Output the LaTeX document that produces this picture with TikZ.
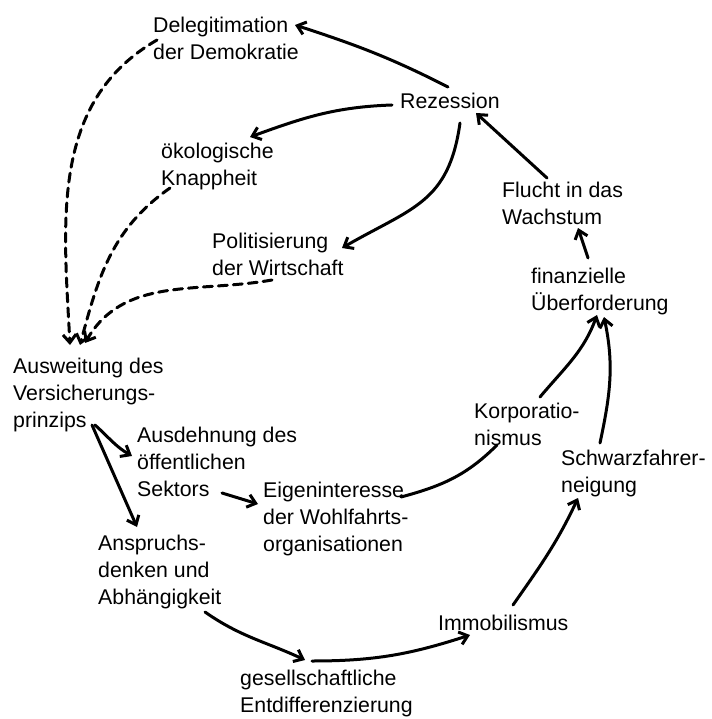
\documentclass[tikz,border=0pt]{standalone}
\usepackage{fontspec}
\setmainfont{Liberation Sans}
\usetikzlibrary{
  arrows.meta,
  calc
}

\tikzset{
    txt/.style={anchor=north west, inner sep=0pt, align=left,
        font=\fontsize{21.3}{27}\selectfont},
    flow/.style={line width=3pt, line cap=round, ->},
    feed/.style={flow, dash pattern=on 9pt off 6pt},
}

\begin{document}
\begin{tikzpicture}[x=1pt, y=-1pt, >={Straight Barb[length=8pt,width=13pt]}]
\useasboundingbox (0,0) rectangle (711,719);

% The labels round the circle
\node[txt] (deleg)  at (153,17)  {Delegitimation\\der Demokratie};
\node[txt] (rez)    at (400,93)  {Rezession};
\node[txt] (oeko)   at (161,143) {ökologische\\Knappheit};
\node[txt] (pol)    at (212,233) {Politisierung\\der Wirtschaft};
\node[txt] (flucht) at (502,182) {Flucht in das\\Wachstum};
\node[txt] (fin)    at (531,268) {finanzielle\\Überforderung};
\node[txt] (ausw)   at (13,358)  {Ausweitung des\\Versicherungs-\\prinzips};
\node[txt] (ausd)   at (137,427) {Ausdehnung des\\öffentlichen\\Sektors};
\node[txt] (korp)   at (474,403) {Korporatio-\\nismus};
\node[txt] (schw)   at (561,450) {Schwarzfahrer-\\neigung};
\node[txt] (eigen)  at (263,482) {Eigeninteresse\\der Wohlfahrts-\\organisationen};
\node[txt] (anspr)  at (98,535)  {Anspruchs-\\denken und\\Abhängigkeit};
\node[txt] (immo)   at (438,615) {Immobilismus};
\node[txt] (ges)    at (240,670) {gesellschaftliche\\Entdifferenzierung};

% Rezession and what it leads to
\draw[flow] ($(rez.north west)+(48,-6)$) to[out=153,in=-18] ($(deleg.north west)+(142,8)$);
\draw[flow] ($(rez.north west)+(-8,12)$) to[out=182,in=20] ($(oeko.north west)+(89,-6)$);
\draw[flow] ($(rez.north west)+(60,30)$) to[out=262,in=30,looseness=1.2] ($(pol.north west)+(130,15)$);

% The right side, going up
\draw[flow] ($(flucht.north west)+(45,-4)$) -- ($(rez.north west)+(76,20)$);
\draw[flow] ($(fin.north west)+(57,-10)$) -- ($(flucht.north west)+(76,46)$);
\draw[flow] ($(korp.north west)+(66,-6)$) to[out=50,in=250] ($(fin.north west)+(66,47)$);
\draw[flow] ($(schw.north west)+(39,-7)$) to[out=78,in=-78] ($(fin.north west)+(73,49)$);
\draw[line width=3pt, line cap=round] ($(eigen.north west)+(138,15)$) to[out=15,in=225] ($(korp.north west)+(23,42)$);
\draw[flow] ($(immo.north west)+(75,-10)$) to[out=55,in=245] ($(schw.north west)+(17,48)$);

% The bottom, going right
\draw[flow] ($(ges.north west)+(72,-9)$) to[out=0,in=198] ($(immo.north west)+(32,20)$);
\draw[flow] ($(anspr.north west)+(107,77)$) to[out=-35,in=155] ($(ges.north west)+(65,-10)$);

% Out of the Versicherungsprinzip
\draw[flow] ($(ausw.north west)+(82,67)$) to[out=-42,in=150] ($(ausd.north west)+(-5,29)$);
\draw[flow] ($(ausw.north west)+(79,67)$) -- ($(anspr.north west)+(39,-8)$);
\draw[flow] ($(ausd.north west)+(85,66)$) -- ($(eigen.north west)+(-5,22)$);

% Dashed feedback into the Versicherungsprinzip
\foreach \src/\dx/\dy/\o/\tx/\ty/\i in {deleg/4/23/210/57/-13/93,
                                        oeko/9/45/215/67/-13/75,
                                        pol/60/47/190/72/-15/60} {
    \draw[feed] ($(\src.north west)+(\dx,\dy)$) to[out=\o,in=\i] ($(ausw.north west)+(\tx,\ty)$);
}

\end{tikzpicture}
\end{document}
